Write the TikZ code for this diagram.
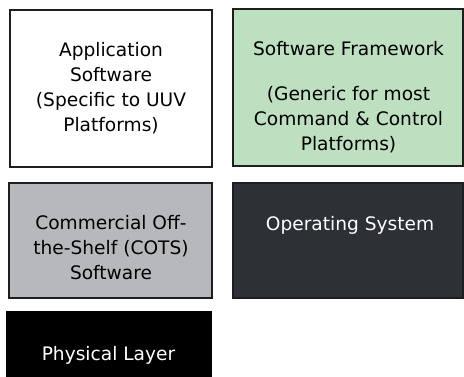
\documentclass[tikz,border=0pt]{standalone}
\usepackage{fontspec}
\setmainfont{DejaVu Sans}
\usepackage{tikz}
\usetikzlibrary{positioning}
\usepackage{xcolor}

\definecolor{fwgreen}{RGB}{190,224,192}
\definecolor{cotsgray}{RGB}{183,184,188}
\definecolor{osdark}{RGB}{45,48,52}
\definecolor{edge}{RGB}{30,30,30}

\begin{document}
\begin{tikzpicture}[
    x=1pt, y=-1pt,
    font=\fontsize{18.6}{25}\selectfont,
    box/.style={draw=edge, line width=1.6pt, inner sep=0pt, minimum height=157pt},
    app/.style={box, fill=white, minimum width=202pt},
    fw/.style={box, fill=fwgreen, minimum width=230pt},
    cots/.style={box, fill=cotsgray, minimum width=203pt, minimum height=115pt},
    os/.style={box, fill=osdark, minimum width=230pt, minimum height=115pt},
    phys/.style={box, draw=black, fill=black, minimum width=204pt, minimum height=88pt},
    txt/.style={inner sep=0pt, align=center, anchor=north},
  ]
    \useasboundingbox (0,0) rectangle (464,376);
    \clip (0,0) rectangle (464,376);

    \node[app] (appbox) at (111,88.5) {};
    \node[fw] (fwbox) at (348,87.5) {};
    \node[cots] (cotsbox) at (110.5,240.5) {};
    \node[os] (osbox) at (348,240.5) {};
    \node[phys] (physbox) at (109,356) {};

    \node[txt] (apptxt) at (111,42.4) {Application\\Software\\(Specific to UUV\\Platforms)};
    \node[txt] (fwtxt) at (348.5,41.4) {Software Framework\\[20pt](Generic for most\\Command \& Control\\Platforms)};
    \node[txt] (cotstxt) at (111,214.9) {Commercial Off-\\the-Shelf (COTS)\\Software};
    \node[txt, text=white] (ostxt) at (350,216.6) {Operating System};
    \node[txt, text=white] (phystxt) at (108.5,345.9) {Physical Layer};
  \end{tikzpicture}
\end{document}
